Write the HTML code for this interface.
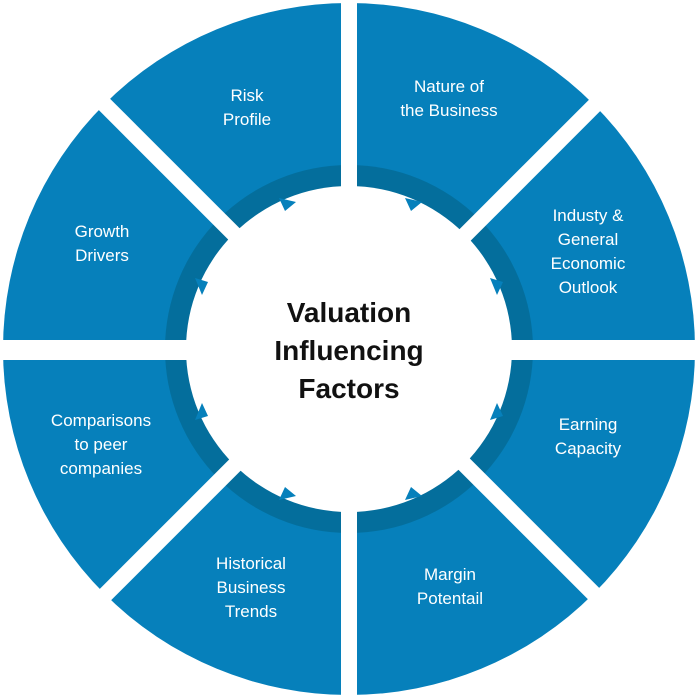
<!DOCTYPE html>
<html><head><style>
html,body{margin:0;padding:0;background:#fff;}
svg{display:block}
text{font-family:"Liberation Sans",sans-serif;}
.l{fill:#fff;font-size:17px;text-anchor:middle;}
.c{fill:#111;font-size:28px;font-weight:bold;text-anchor:middle;}
</style></head><body>
<svg width="700" height="700" viewBox="0 0 700 700">
<circle cx="349" cy="349" r="346" fill="#0680bb"/>
<circle cx="349" cy="349" r="184" fill="#046e9c"/>
<circle cx="349" cy="349" r="163" fill="#fff"/>
<g fill="#0680bb">
<polygon points="279,198 296,202 285,211"/>
<polygon points="405,198 422,202 411,211"/>
<polygon points="490,278 497,295 503,282"/>
<polygon points="490,420 497,403 503,416"/>
<polygon points="405,500 422,496 411,487"/>
<polygon points="279,500 296,496 285,487"/>
<polygon points="195,420 202,403 208,416"/>
<polygon points="195,278 202,295 208,282"/>
</g>
<g stroke="#fff" stroke-width="16">
<line x1="349" y1="0" x2="349" y2="700"/>
<line x1="0" y1="350" x2="700" y2="350" stroke-width="20"/>
<line x1="100" y1="100" x2="600" y2="600"/>
<line x1="600" y1="100" x2="100" y2="600"/>
</g>
<text class="l" x="449" y="92">Nature of</text>
<text class="l" x="449" y="116">the Business</text>
<text class="l" x="247" y="101">Risk</text>
<text class="l" x="247" y="125">Profile</text>
<text class="l" x="102" y="237">Growth</text>
<text class="l" x="102" y="261">Drivers</text>
<text class="l" x="588" y="221">Industy &amp;</text>
<text class="l" x="588" y="245">General</text>
<text class="l" x="588" y="269">Economic</text>
<text class="l" x="588" y="293">Outlook</text>
<text class="l" x="101" y="426">Comparisons</text>
<text class="l" x="101" y="450">to peer</text>
<text class="l" x="101" y="474">companies</text>
<text class="l" x="588" y="430">Earning</text>
<text class="l" x="588" y="454">Capacity</text>
<text class="l" x="251" y="569">Historical</text>
<text class="l" x="251" y="593">Business</text>
<text class="l" x="251" y="617">Trends</text>
<text class="l" x="450" y="580">Margin</text>
<text class="l" x="450" y="604">Potentail</text>
<text class="c" x="349" y="322">Valuation</text>
<text class="c" x="349" y="360">Influencing</text>
<text class="c" x="349" y="398">Factors</text>
</svg>
</body></html>
